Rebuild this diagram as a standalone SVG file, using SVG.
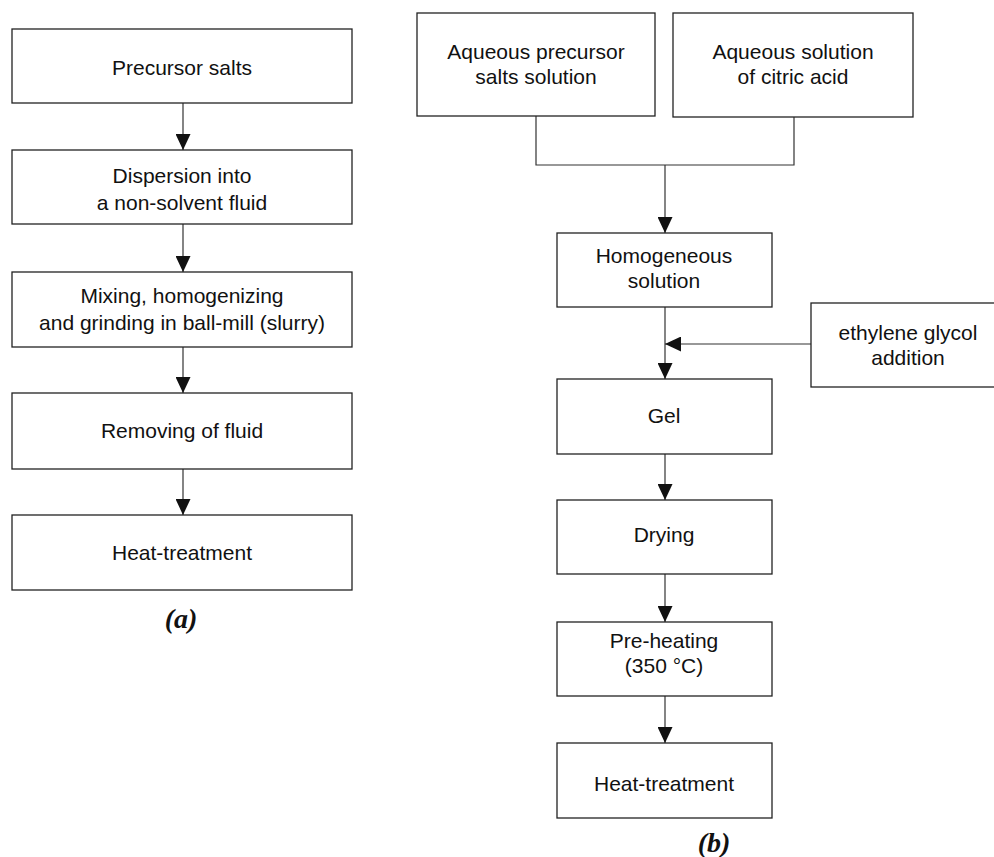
<svg xmlns="http://www.w3.org/2000/svg" width="994" height="857" viewBox="0 0 994 857">
<defs>
<style>
.box{fill:#fff;stroke:#222;stroke-width:1.3}
.t{font-family:"Liberation Sans",Arial,sans-serif;font-size:21px;fill:#111;text-anchor:middle}
.ln{fill:none;stroke:#333;stroke-width:1.2}
.lab{font-family:"Liberation Serif","Times New Roman",serif;font-size:28px;font-weight:bold;font-style:italic;fill:#111;text-anchor:middle}
</style>
<marker id="ah" markerUnits="userSpaceOnUse" markerWidth="16" markerHeight="15" refX="16" refY="7.5" orient="auto">
<path d="M0,0 L16,7.5 L0,15 z" fill="#111"/>
</marker>
</defs>
<rect width="994" height="857" fill="#fff"/>
<g id="connectors">
<line class="ln" x1="183" y1="103" x2="183" y2="150" marker-end="url(#ah)"/>
<line class="ln" x1="183" y1="224" x2="183" y2="272" marker-end="url(#ah)"/>
<line class="ln" x1="183" y1="347" x2="183" y2="393" marker-end="url(#ah)"/>
<line class="ln" x1="183" y1="469" x2="183" y2="515" marker-end="url(#ah)"/>
<polyline class="ln" points="536,116 536,165 794,165 794,117"/>
<line class="ln" x1="665" y1="165" x2="665" y2="233" marker-end="url(#ah)"/>
<line class="ln" x1="665" y1="307" x2="665" y2="379" marker-end="url(#ah)"/>
<line class="ln" x1="811" y1="344" x2="665" y2="344" marker-end="url(#ah)"/>
<line class="ln" x1="665" y1="454" x2="665" y2="500" marker-end="url(#ah)"/>
<line class="ln" x1="665" y1="574" x2="665" y2="622" marker-end="url(#ah)"/>
<line class="ln" x1="665" y1="696" x2="665" y2="743" marker-end="url(#ah)"/>
</g>
<g id="a1"><rect class="box" x="12" y="29" width="340" height="74"/><text class="t" x="182" y="75">Precursor salts</text></g>
<g id="a2"><rect class="box" x="12" y="150" width="340" height="74"/><text class="t" x="182" y="183">Dispersion into</text><text class="t" x="182" y="210">a non-solvent fluid</text></g>
<g id="a3"><rect class="box" x="12" y="272" width="340" height="75"/><text class="t" x="182" y="303">Mixing, homogenizing</text><text class="t" x="182" y="330">and grinding in ball-mill (slurry)</text></g>
<g id="a4"><rect class="box" x="12" y="393" width="340" height="76"/><text class="t" x="182" y="438">Removing of fluid</text></g>
<g id="a5"><rect class="box" x="12" y="515" width="340" height="75"/><text class="t" x="182" y="560">Heat-treatment</text></g>
<g id="labA"><text class="lab" x="181" y="628">(a)</text></g>
<g id="b1"><rect class="box" x="417" y="13" width="238" height="103"/><text class="t" x="536" y="59">Aqueous precursor</text><text class="t" x="536" y="84">salts solution</text></g>
<g id="b2"><rect class="box" x="673" y="13" width="240" height="104"/><text class="t" x="793" y="59">Aqueous solution</text><text class="t" x="793" y="84">of citric acid</text></g>
<g id="b3"><rect class="box" x="557" y="233" width="215" height="74"/><text class="t" x="664" y="263">Homogeneous</text><text class="t" x="664" y="288">solution</text></g>
<g id="b4"><rect class="box" x="811" y="303" width="200" height="84"/><text class="t" x="908" y="340">ethylene glycol</text><text class="t" x="908" y="365">addition</text></g>
<g id="b5"><rect class="box" x="557" y="379" width="215" height="75"/><text class="t" x="664" y="423">Gel</text></g>
<g id="b6"><rect class="box" x="557" y="500" width="215" height="74"/><text class="t" x="664" y="542">Drying</text></g>
<g id="b7"><rect class="box" x="557" y="622" width="215" height="74"/><text class="t" x="664" y="648">Pre-heating</text><text class="t" x="664" y="673">(350 °C)</text></g>
<g id="b8"><rect class="box" x="557" y="743" width="215" height="75"/><text class="t" x="664" y="791">Heat-treatment</text></g>
<g id="labB"><text class="lab" x="714" y="852">(b)</text></g>
</svg>
